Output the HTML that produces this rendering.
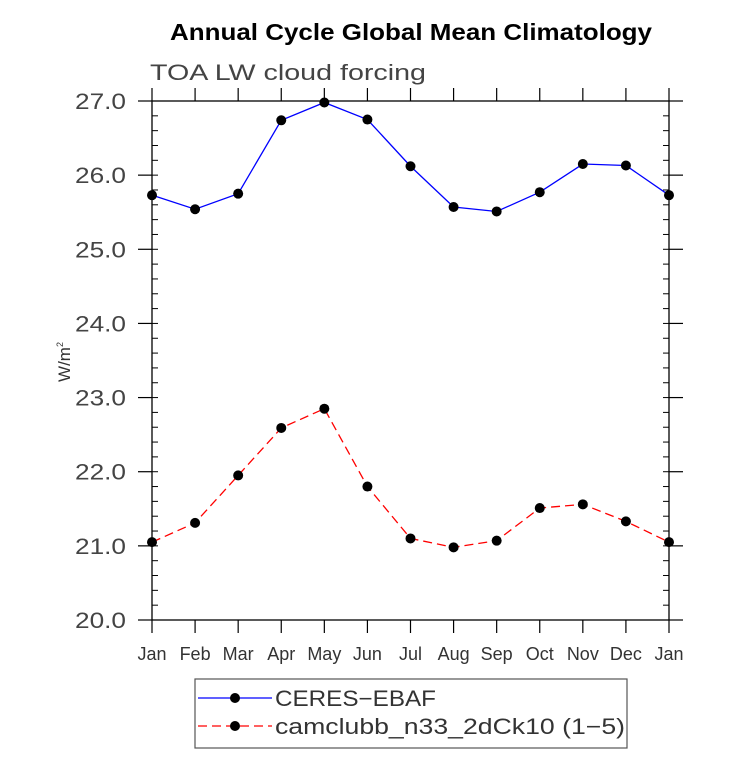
<!DOCTYPE html>
<html><head><meta charset="utf-8"><style>
body{margin:0;background:#fff}
svg text{font-family:"Liberation Sans","DejaVu Sans",sans-serif}
</style></head><body>
<svg id="c" width="733" height="754" xmlns="http://www.w3.org/2000/svg">
<text x="170" y="40" font-size="23" font-weight="bold" textLength="482" lengthAdjust="spacingAndGlyphs">Annual Cycle Global Mean Climatology</text>
<text x="150" y="80" font-size="22" fill="#444" textLength="276" lengthAdjust="spacingAndGlyphs">TOA LW cloud forcing</text>
<text transform="translate(70,362) rotate(-90)" text-anchor="middle" font-size="17" fill="#333">W/m<tspan font-size="9" dy="-7">2</tspan></text>
<g id="ax"></g>
<g id="series"></g>
<rect x="195" y="679" width="432" height="69" fill="none" stroke="#555" stroke-width="1.2"/>
<g>
<line x1="198" y1="698" x2="272" y2="698" stroke="#0000ff" stroke-width="1.3"/>
<circle cx="235" cy="698" r="5" fill="#000"/>
<text x="275" y="706" font-size="22" fill="#333" textLength="161" lengthAdjust="spacingAndGlyphs">CERES−EBAF</text>
</g>
<g>
<line x1="198" y1="726" x2="272" y2="726" stroke="#ff0000" stroke-width="1.3" stroke-dasharray="9,5"/>
<circle cx="235" cy="726" r="5" fill="#000"/>
<text x="275" y="734" font-size="22" fill="#333" textLength="350" lengthAdjust="spacingAndGlyphs">camclubb_n33_2dCk10 (1−5)</text>
</g>
</svg>
<script>
const months=["Jan","Feb","Mar","Apr","May","Jun","Jul","Aug","Sep","Oct","Nov","Dec","Jan"];
const ceres=[25.73,25.54,25.75,26.74,26.98,26.75,26.12,25.57,25.51,25.77,26.15,26.13,25.73];
const model=[21.05,21.31,21.95,22.59,22.85,21.80,21.10,20.98,21.07,21.51,21.56,21.33,21.05];
const yTicks=[20,21,22,23,24,25,26,27];
const NS="http://www.w3.org/2000/svg";
const L=152,R=669,T=101,B=620,yMin=20,yMax=27;
const xs=i=>L+(R-L)*i/(months.length-1);
const ys=v=>B-(B-T)*(v-yMin)/(yMax-yMin);
function mk(tag,at,parent){const e=document.createElementNS(NS,tag);for(const k in at)e.setAttribute(k,at[k]);parent.appendChild(e);return e;}
const ax=document.getElementById('ax');
const fr=mk('rect',{x:L,y:T,width:R-L,height:B-T,fill:'none',stroke:'#000','stroke-width':1.3},ax);


months.forEach((m,i)=>{
  const x=xs(i);
  mk('line',{x1:x,y1:B,x2:x,y2:B+13,stroke:'#000','stroke-width':1.2},ax);
  mk('line',{x1:x,y1:T,x2:x,y2:T-13,stroke:'#000','stroke-width':1.2},ax);
  const t=mk('text',{x:x,y:B+40,'text-anchor':'middle','font-size':18,fill:'#333'},ax);
  t.textContent=m;
  
  
});
yTicks.forEach(v=>{
  const y=ys(v);
  mk('line',{x1:L-14,y1:y,x2:L,y2:y,stroke:'#000','stroke-width':1.2},ax);
  mk('line',{x1:R,y1:y,x2:R+14,y2:y,stroke:'#000','stroke-width':1.2},ax);
  const t=mk('text',{x:126,y:y+8,'text-anchor':'end','font-size':22,fill:'#444',textLength:51,lengthAdjust:'spacingAndGlyphs'},ax);
  t.textContent=v.toFixed(1);
  
  
});
for(let v=yMin;v<yMax-0.01;v+=0.2){
  const y=ys(v);
  mk('line',{x1:L,y1:y,x2:L+6,y2:y,stroke:'#000','stroke-width':1},ax);
  mk('line',{x1:R-6,y1:y,x2:R,y2:y,stroke:'#000','stroke-width':1},ax);
}
const sg=document.getElementById('series');
function series(vals,color,dash,name){
  const g=mk('g',{},sg);
  
  
  const at={points:vals.map((v,i)=>xs(i)+','+ys(v)).join(' '),fill:'none',stroke:color,'stroke-width':1.3};
  if(dash)at['stroke-dasharray']=dash;
  mk('polyline',at,g);
  vals.forEach((v,i)=>{
    const c=mk('circle',{cx:xs(i),cy:ys(v),r:5,fill:'#000'},g);
    
    
  });
}
series(ceres,'#0000ff',null,'series-ceres-ebaf');
series(model,'#ff0000','9,5','series-camclubb');
</script>
</body></html>
